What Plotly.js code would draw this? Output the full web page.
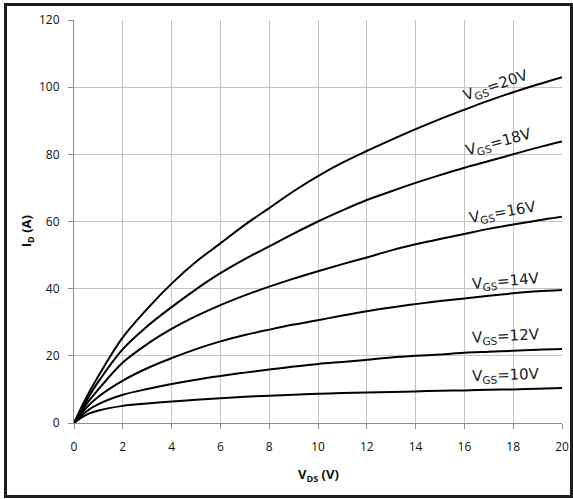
<!DOCTYPE html>
<html>
<head>
<meta charset="utf-8">
<script src="https://cdn.plot.ly/plotly-3.0.1.min.js"></script>
<style>
  html, body { margin: 0; padding: 0; background: #fff; }
  #wrap { position: relative; width: 573px; height: 499px; }
  #chart { width: 573px; height: 499px; }
  #frame { position: absolute; left: 4px; top: 3px; width: 569px; height: 495px;
           box-sizing: border-box; border: 3px solid #1c1c1c; pointer-events: none; }
</style>
</head>
<body>
<div id="wrap"><div id="chart"></div><div id="frame"></div></div>
<script>
// V_DS (V)
const vds = [0, 0.5, 1, 2, 3, 4, 5, 6, 7, 8, 9, 10, 11, 12, 13, 14, 15, 16, 17, 18, 19, 20];
// I_D (A) for each V_GS
const id_vgs20 = [0, 7.5, 14, 25.5, 34, 41.5, 48, 53.5, 59, 64, 69, 73.5, 77.5, 81, 84.3, 87.5, 90.5, 93.3, 96, 98.5, 100.8, 103];
const id_vgs18 = [0, 6.5, 12.3, 22, 28.8, 34.5, 39.8, 44.6, 48.8, 52.6, 56.4, 60, 63.3, 66.4, 69, 71.5, 73.8, 76, 78, 80, 82, 83.8];
const id_vgs16 = [0, 5.5, 10, 18, 23.5, 28, 31.8, 35.1, 38, 40.6, 43, 45.2, 47.3, 49.3, 51.4, 53.2, 54.8, 56.3, 57.8, 59.1, 60.3, 61.4];
const id_vgs14 = [0, 4.5, 7.8, 12.6, 16.3, 19.3, 22, 24.3, 26.2, 27.8, 29.3, 30.6, 32, 33.3, 34.4, 35.4, 36.3, 37.1, 37.9, 38.6, 39.2, 39.6];
const id_vgs12 = [0, 3.4, 5.6, 8.4, 10.1, 11.6, 12.9, 14, 15, 15.9, 16.8, 17.6, 18.2, 18.8, 19.5, 20, 20.4, 20.9, 21.2, 21.5, 21.8, 22];
const id_vgs10 = [0, 2.4, 3.7, 5.1, 5.8, 6.4, 6.9, 7.4, 7.8, 8.1, 8.4, 8.7, 8.9, 9.1, 9.2, 9.4, 9.6, 9.7, 9.9, 10, 10.2, 10.4];

const seriesNames = ["V<sub>GS</sub>=20V", "V<sub>GS</sub>=18V", "V<sub>GS</sub>=16V", "V<sub>GS</sub>=14V", "V<sub>GS</sub>=12V", "V<sub>GS</sub>=10V"];
const seriesData = [id_vgs20, id_vgs18, id_vgs16, id_vgs14, id_vgs12, id_vgs10];

// label anchor points (data coords) and angles
const labelX = [17.3, 17.4, 17.6, 17.7, 17.7, 17.7];
const labelY = [100.5, 83.5, 62.8, 42.0, 25.7, 14.0];
const labelAngle = [-19, -15, -10, -5, -3, -2];

const xTicks = [0, 2, 4, 6, 8, 10, 12, 14, 16, 18, 20];
const yTicks = [0, 20, 40, 60, 80, 100, 120];

const traces = seriesData.map((d, i) => ({
  x: vds, y: d, type: 'scatter', mode: 'lines', name: seriesNames[i],
  line: {color: '#000', width: 2, shape: 'spline', smoothing: 1},
  showlegend: false, hoverinfo: 'skip'
}));

const annotations = seriesNames.map((t, i) => ({
  x: labelX[i], y: labelY[i], xref: 'x', yref: 'y', text: t, showarrow: false,
  textangle: labelAngle[i], font: {family: 'DejaVu Sans', size: 15, color: '#222'},
  xanchor: 'center', yanchor: 'middle'
}));
annotations.push({
  x: 0.5, y: -0.13, xref: 'paper', yref: 'paper', text: '<b>V<sub>DS</sub> (V)</b>',
  showarrow: false, font: {family: 'Open Sans', size: 13, color: '#111'},
  xanchor: 'center', yanchor: 'middle'
});
annotations.push({
  x: -0.097, y: 0.475, xref: 'paper', yref: 'paper', text: '<b>I<sub>D</sub> (A)</b>',
  showarrow: false, textangle: -90, font: {family: 'Open Sans', size: 13, color: '#111'},
  xanchor: 'center', yanchor: 'middle'
});

const axisCommon = {
  showgrid: true, gridcolor: '#c4c4c4', gridwidth: 1,
  showline: true, linecolor: '#8c8c8c', linewidth: 1,
  ticks: 'outside', ticklen: 5, tickcolor: '#8c8c8c', tickwidth: 1,
  zeroline: false, tickfont: {family: 'Open Sans', size: 12, color: '#111'}
};

const layout = {
  width: 573, height: 499,
  margin: {l: 74, r: 11, t: 20, b: 76},
  paper_bgcolor: '#fff', plot_bgcolor: '#fff',
  xaxis: Object.assign({}, axisCommon, {range: [0, 20], tickvals: xTicks, ticktext: xTicks.map(String), ticklabelstandoff: 8}),
  yaxis: Object.assign({}, axisCommon, {range: [0, 120], tickvals: yTicks, ticktext: yTicks.map(String), ticklabelstandoff: 6}),
  annotations: annotations
};

Plotly.newPlot('chart', traces, layout, {staticPlot: true, displayModeBar: false});
</script>
</body>
</html>
